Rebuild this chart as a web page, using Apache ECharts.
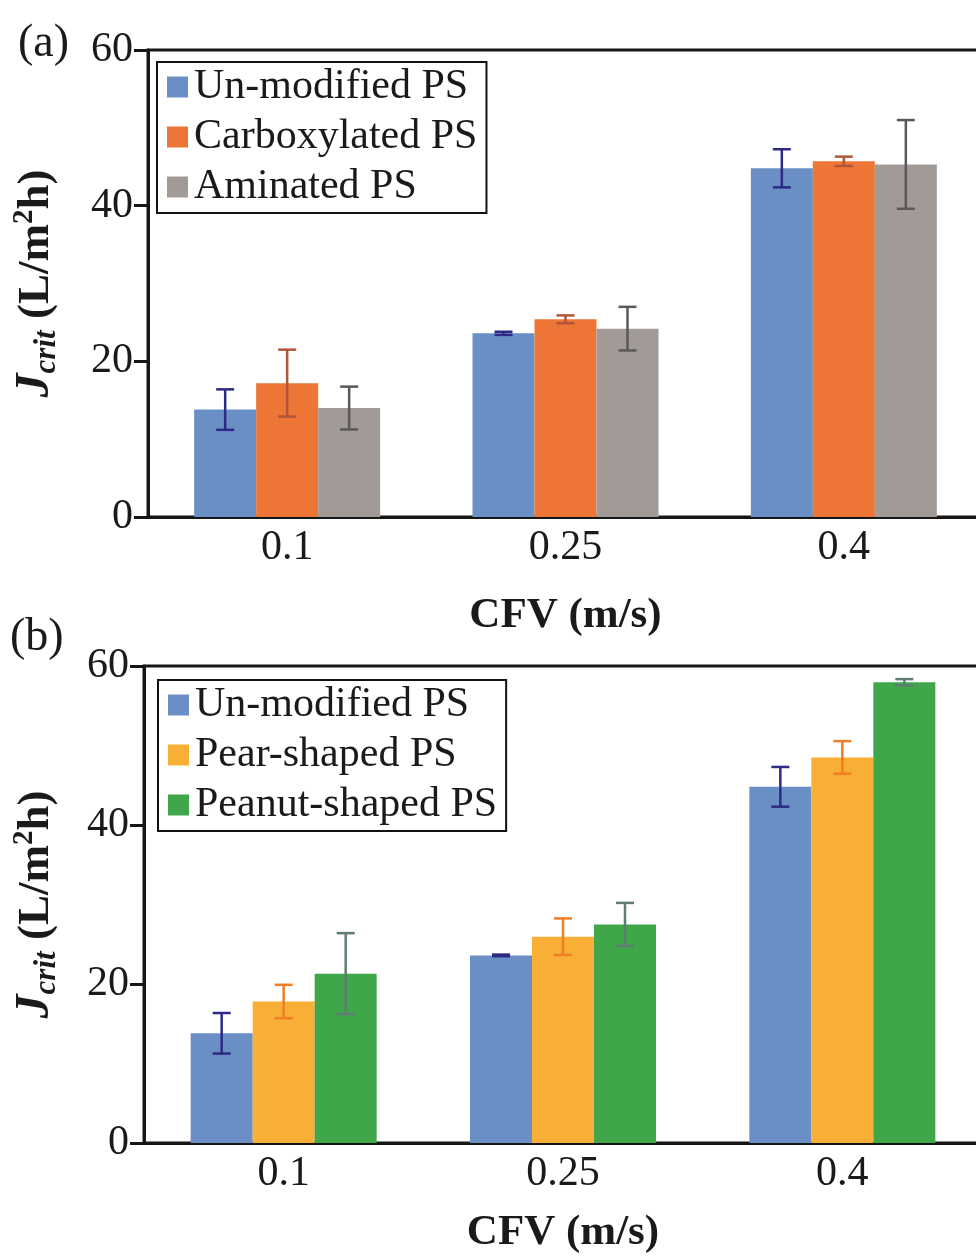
<!DOCTYPE html>
<html>
<head>
<meta charset="utf-8">
<script src="https://cdn.jsdelivr.net/npm/echarts@6/dist/echarts.min.js"></script>
<style>
  html, body { margin: 0; padding: 0; background: #fff; }
  #chart { width: 976px; height: 1257px; }
</style>
</head>
<body>
<div id="chart"></div>
<script>
// x categories (CFV, m/s)
var categories = ['0.1', '0.25', '0.4'];

// panel (a) - surface chemistry
var unmodA = [13.8, 23.6, 44.8];
var unmodErrA = [2.6, 0.2, 2.45];
var carboxA = [17.2, 25.4, 45.7];
var carboxErrA = [4.3, 0.5, 0.6];
var aminA = [14.0, 24.2, 45.3];
var aminErrA = [2.75, 2.8, 5.7];

// panel (b) - shape
var unmodB = [13.8, 23.6, 44.8];
var unmodErrB = [2.55, 0.1, 2.5];
var pearB = [17.8, 25.95, 48.5];
var pearErrB = [2.1, 2.3, 2.05];
var peanutB = [21.3, 27.5, 57.95];
var peanutErrB = [5.1, 2.7, 0.4];

var yTicks = [0, 20, 40, 60];

var FONT = "'Liberation Serif', 'Times New Roman', serif";
var AXIS = '#161616';
var BAR_W = 62;

var myChart = echarts.init(document.getElementById('chart'));

function errData(vals, errs) {
    var out = [];
    for (var i = 0; i < vals.length; i++) {
        out.push([i, vals[i] - errs[i], vals[i] + errs[i]]);
    }
    return out;
}

function errSeries(gridIdx, vals, errs, color, offset) {
    return {
        type: 'custom',
        xAxisIndex: gridIdx,
        yAxisIndex: gridIdx,
        z: 10,
        silent: true,
        data: errData(vals, errs),
        renderItem: function (params, api) {
            var top = api.coord([api.value(0), api.value(2)]);
            var bot = api.coord([api.value(0), api.value(1)]);
            var x = top[0] + offset;
            var cap = 9;
            var st = { stroke: color, lineWidth: 2.5 };
            return {
                type: 'group',
                children: [
                    { type: 'line', shape: { x1: x, y1: top[1], x2: x, y2: bot[1] }, style: st },
                    { type: 'line', shape: { x1: x - cap, y1: top[1], x2: x + cap, y2: top[1] }, style: st },
                    { type: 'line', shape: { x1: x - cap, y1: bot[1], x2: x + cap, y2: bot[1] }, style: st }
                ]
            };
        }
    };
}

function barSeries(gridIdx, name, vals, color) {
    return {
        name: name,
        type: 'bar',
        xAxisIndex: gridIdx,
        yAxisIndex: gridIdx,
        barWidth: BAR_W,
        barGap: '0%',
        itemStyle: { color: color },
        data: vals
    };
}

function xAxisFor(gridIdx, gap) {
    return {
        type: 'category',
        gridIndex: gridIdx,
        data: categories,
        axisLine: { lineStyle: { color: AXIS, width: 3 } },
        axisTick: { show: false },
        axisLabel: { fontFamily: FONT, fontSize: 42, color: '#1a1a1a', margin: 10 },
        name: 'CFV (m/s)',
        nameLocation: 'middle',
        nameGap: gap,
        nameTextStyle: { fontFamily: FONT, fontSize: 43, fontWeight: 'bold', color: '#1a1a1a' }
    };
}

function yAxisFor(gridIdx, gap) {
    return {
        type: 'value',
        gridIndex: gridIdx,
        min: yTicks[0],
        max: yTicks[yTicks.length - 1],
        interval: 20,
        axisLine: { show: true, lineStyle: { color: AXIS, width: 3 } },
        axisTick: { show: true, length: 14, lineStyle: { color: AXIS, width: 3 } },
        splitLine: { show: false },
        axisLabel: { fontFamily: FONT, fontSize: 42, color: '#1a1a1a', margin: 15 },
        name: '{i|J}{s|crit}{n| (L/m}{p|2}{n|h)}',
        nameLocation: 'middle',
        nameRotate: 90,
        nameGap: gap,
        nameTextStyle: {
            fontFamily: FONT,
            color: '#1a1a1a',
            rich: {
                i: { fontFamily: FONT, fontSize: 48, fontStyle: 'italic', fontWeight: 'bold', lineHeight: 52, verticalAlign: 'middle' },
                s: { fontFamily: FONT, fontSize: 31, fontStyle: 'italic', fontWeight: 'bold', lineHeight: 52, verticalAlign: 'bottom' },
                n: { fontFamily: FONT, fontSize: 45, fontWeight: 'bold', lineHeight: 52, verticalAlign: 'middle' },
                p: { fontFamily: FONT, fontSize: 29, fontWeight: 'bold', lineHeight: 52, verticalAlign: 'top' }
            }
        }
    };
}

function legendFor(names, left, top) {
    return {
        orient: 'vertical',
        left: left,
        top: top,
        data: names,
        icon: 'rect',
        itemWidth: 21,
        itemHeight: 21,
        itemGap: 8,
        padding: [4, 9, 5, 10],
        borderColor: '#111',
        borderWidth: 2,
        backgroundColor: '#fff',
        selectedMode: false,
        textStyle: { fontFamily: FONT, fontSize: 42, lineHeight: 41, color: '#1a1a1a', padding: [0, 0, 0, 1] }
    };
}

var option = {
    animation: false,
    backgroundColor: '#fff',
    title: [
        { text: '(a)', left: 13, top: 16, textStyle: { fontFamily: FONT, fontSize: 46, fontWeight: 'normal', color: '#1a1a1a' } },
        { text: '(b)', left: 5, top: 610, textStyle: { fontFamily: FONT, fontSize: 46, fontWeight: 'normal', color: '#1a1a1a' } }
    ],
    legend: [
        legendFor(['Un-modified PS', 'Carboxylated PS', 'Aminated PS'], 157, 62),
        legendFor(['Un-modified PS ', 'Pear-shaped PS', 'Peanut-shaped PS'], 158, 680)
    ],
    grid: [
        { left: 148, top: 50, width: 835, height: 467, outerBoundsMode: 'none', containLabel: false, show: true, borderColor: AXIS, borderWidth: 3, backgroundColor: 'transparent' },
        { left: 144, top: 666, width: 838, height: 477, outerBoundsMode: 'none', containLabel: false, show: true, borderColor: AXIS, borderWidth: 3, backgroundColor: 'transparent' }
    ],
    xAxis: [xAxisFor(0, 77), xAxisFor(1, 68)],
    yAxis: [yAxisFor(0, 86), yAxisFor(1, 82)],
    series: [
        barSeries(0, 'Un-modified PS', unmodA, '#6A8FC5'),
        barSeries(0, 'Carboxylated PS', carboxA, '#ED7636'),
        barSeries(0, 'Aminated PS', aminA, '#A19A97'),
        errSeries(0, unmodA, unmodErrA, '#2C2A86', -BAR_W),
        errSeries(0, carboxA, carboxErrA, '#B0553A', 0),
        errSeries(0, aminA, aminErrA, '#5A5858', BAR_W),

        barSeries(1, 'Un-modified PS ', unmodB, '#6A8FC5'),
        barSeries(1, 'Pear-shaped PS', pearB, '#F7AF35'),
        barSeries(1, 'Peanut-shaped PS', peanutB, '#3FA64A'),
        errSeries(1, unmodB, unmodErrB, '#2C2A86', -BAR_W),
        errSeries(1, pearB, pearErrB, '#F07E26', 0),
        errSeries(1, peanutB, peanutErrB, '#5F7D70', BAR_W)
    ]
};

myChart.setOption(option);
</script>
</body>
</html>
